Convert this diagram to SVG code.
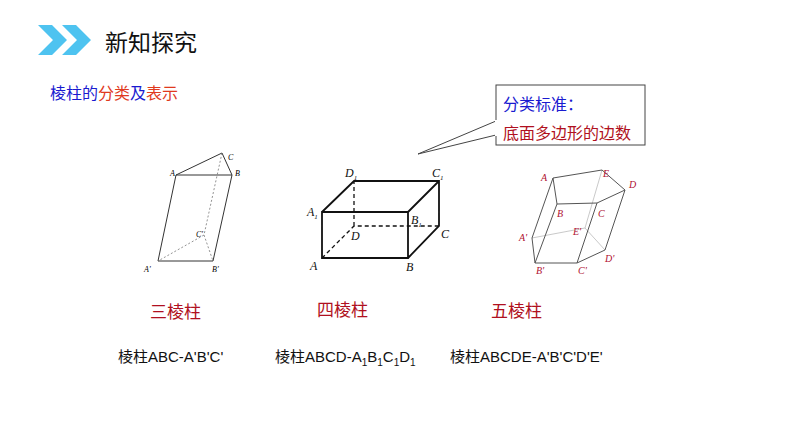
<svg xmlns="http://www.w3.org/2000/svg" width="794" height="447" viewBox="0 0 794 447">
<style>
.t{font-family:"Liberation Sans","Noto Sans CJK SC",sans-serif}
.l{font-family:"Liberation Serif",serif;font-style:italic;font-size:8px}
.g{stroke:#333;stroke-width:1;fill:none}
.gd{stroke:#777;stroke-width:0.8;fill:none;stroke-dasharray:2 2}
.c{stroke:#111;stroke-width:1.8;fill:none}
.cd{stroke:#111;stroke-width:1.3;fill:none;stroke-dasharray:4 3}
.p{stroke:#555;stroke-width:1;fill:none}
.pl{stroke:#bbb;stroke-width:0.8;fill:none}
.r{font-family:"Liberation Serif",serif;font-style:italic;font-size:10px;fill:#b01030}
</style>
<rect width="794" height="447" fill="#fff"/>
<g id="header">
<polygon points="38,25 52,25 67,40 52,55 38,55 53,40" fill="#4ec3f0"/>
<polygon points="62,25 76,25 91,40 76,55 62,55 77,40" fill="#4ec3f0"/>
<text class="t" x="105" y="51" font-size="23" fill="#111">新知探究</text>
<text class="t" x="50" y="99" font-size="16"><tspan fill="#1a1ad0">棱柱的</tspan><tspan fill="#e03a1e">分类</tspan><tspan fill="#1a1ad0">及</tspan><tspan fill="#e03a1e">表示</tspan></text>
</g>
<g id="callout">
<path d="M496,121 L418,154 L496,135" fill="#fff" stroke="#444" stroke-width="1"/>
<rect x="496" y="85" width="149" height="60" fill="#fff" stroke="#444" stroke-width="1"/>
<rect x="495" y="120" width="3" height="16" fill="#fff"/>
<text class="t" x="503" y="110" font-size="16" fill="#1a1ad0">分类标准：</text>
<text class="t" x="503" y="139" font-size="16" fill="#b01020">底面多边形的边数</text>
</g>
<g id="prism3">
<path class="g" d="M176,175 L232,175 L222,153 Z M176,175 L158,261 L213,261 L232,175"/>
<path class="gd" d="M222,153 L204,235 L158,261 M204,235 L213,261"/>
<text class="l" x="170" y="176">A</text><text class="l" x="235" y="176">B</text><text class="l" x="228" y="160">C</text>
<text class="l" x="196" y="237">C'</text><text class="l" x="144" y="272">A'</text><text class="l" x="212" y="272">B'</text>
</g>
<g id="prism4">
<path class="c" d="M322,258 L408,258 L408,212 L322,212 Z M322,212 L354,181 L439,181 L439,226 L408,258 M408,212 L439,181"/>
<path class="cd" d="M322,258 L354,226 L439,226 M354,226 L354,181"/>
<g font-family="Liberation Serif,serif" font-style="italic" font-size="12" fill="#111">
<text x="345" y="177">D<tspan font-size="7" dy="3">1</tspan></text>
<text x="432" y="177">C<tspan font-size="7" dy="3">1</tspan></text>
<text x="307" y="216">A<tspan font-size="7" dy="3">1</tspan></text>
<text x="411" y="224">B<tspan font-size="7" dy="3">1</tspan></text>
<text x="351" y="240">D</text><text x="441" y="238">C</text>
<text x="310" y="270">A</text><text x="406" y="271">B</text>
</g>
</g>
<g id="prism5">
<path class="pl" d="M602,170 L585,228 L532,238 M585,228 L605,250"/>
<path class="p" d="M553,178 L602,170 L625,190 L597,203 L557,204 Z M553,178 L532,238 L535,263 L577,263 L605,250 L625,190 M557,204 L535,263 M597,203 L577,263"/>
<text class="r" x="541" y="181">A</text><text class="r" x="603" y="177">E</text><text class="r" x="629" y="188" font-size="11">D</text>
<text class="r" x="557" y="217">B</text><text class="r" x="598" y="217">C</text><text class="r" x="573" y="235">E'</text>
<text class="r" x="519" y="241">A'</text><text class="r" x="536" y="274">B'</text><text class="r" x="578" y="274">C'</text><text class="r" x="605" y="262">D'</text>
</g>
<g id="labels" class="t">
<text x="150" y="318" font-size="17" fill="#b01020">三棱柱</text>
<text x="317" y="316" font-size="17" fill="#b01020">四棱柱</text>
<text x="491" y="317" font-size="17" fill="#b01020">五棱柱</text>
<g font-size="15" fill="#111">
<text x="118" y="362">棱柱ABC-A'B'C'</text>
<text x="275" y="362">棱柱ABCD-A<tspan font-size="10" dy="4">1</tspan><tspan dy="-4">B</tspan><tspan font-size="10" dy="4">1</tspan><tspan dy="-4">C</tspan><tspan font-size="10" dy="4">1</tspan><tspan dy="-4">D</tspan><tspan font-size="10" dy="4">1</tspan></text>
<text x="450" y="362">棱柱ABCDE-A'B'C'D'E'</text>
</g>
</g>
</svg>
